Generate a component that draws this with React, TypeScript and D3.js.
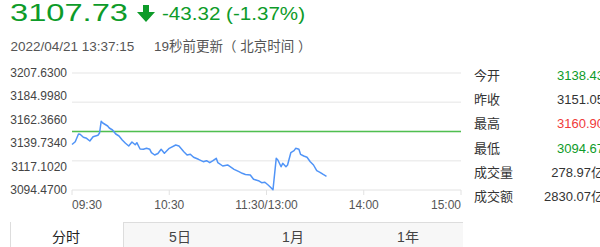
import React from "react";
import * as d3 from "d3";

// Intraday quote for 2022/04/21
const times = [
  "09:30","09:32","09:34","09:35","09:37","09:39","09:41","09:43","09:46","09:47",
  "09:48","09:49","09:51","09:52","09:53","09:55","09:57","09:59","10:01","10:03",
  "10:05","10:07","10:09","10:10","10:12","10:14","10:16","10:18","10:19","10:21",
  "10:23","10:25","10:27","10:30","10:34","10:36","10:39","10:41","10:43","10:45",
  "10:48","10:51","10:53","10:55","10:57","10:59","11:00","11:03","11:06","11:10",
  "11:13","11:15","11:17","11:20","11:22","11:25","11:27","11:29","13:01","13:02",
  "13:04","13:06","13:07","13:09","13:10","13:12","13:13","13:15","13:17","13:18",
  "13:20","13:21","13:23","13:25","13:27","13:29","13:31","13:33","13:35","13:37",
];
const prices = [
  3138.43,3141.18,3148.63,3148.34,3145.44,3144.47,3141.86,3146.02,3147.37,3149.6,
  3160.9,3159.27,3157.34,3156.37,3154.44,3152.5,3148.63,3146.7,3142.76,3139.64,
  3137.03,3140.9,3138.28,3140.22,3134.12,3133.83,3134.8,3133.83,3130.55,3128.32,
  3129.77,3133.83,3129.96,3134.8,3138.0,3137.03,3131.51,3128.32,3129.0,3126.1,
  3124.16,3121.84,3122.81,3120.87,3122.81,3125.13,3120.87,3117.68,3118.65,3114.49,
  3112.17,3110.62,3109.46,3108.98,3104.82,3103.47,3101.53,3101.92,3099.31,3097.86,
  3094.67,3125.13,3123.48,3117.0,3120.29,3117.0,3118.65,3130.55,3132.48,3134.8,
  3133.83,3129.0,3127.35,3126.1,3121.84,3118.65,3113.14,3111.59,3109.5,3107.73,
];

const prevClose = 3151.05;
const yTickLabels = ["3207.6300","3184.9980","3162.3660","3139.7340","3117.1020","3094.4700"];
const xTickLabels = ["09:30","10:30","11:30/13:00","14:00","15:00"];
const xTickMinutes = [0, 60, 120, 180, 240];

const statLabels = ["今开","昨收","最高","最低","成交量","成交额"];
const statValues = ["3138.43","3151.05","3160.90","3094.67","278.97亿","2830.07亿"];
const statColors = ["#0d9b29","#333333","#f03a3a","#0d9b29","#333333","#333333"];

const tabs = ["分时","5日","1月","1年"];

const FONT = "'Liberation Sans', Arial, 'Noto Sans CJK SC', sans-serif";
const GREEN = "#0d9b29";

// Minutes since the 09:30 open, with the lunch break removed
function sessionMinute(t: string): number {
  const [h, m] = t.split(":").map(Number);
  const mins = h * 60 + m;
  return mins <= 11 * 60 + 30 ? mins - (9 * 60 + 30) : 120 + mins - 13 * 60;
}

export default function App() {
  const W = 600, H = 247;
  const x = d3.scaleLinear().domain([0, 240]).range([72, 461]);
  const y = d3.scaleLinear().domain([3094.47, 3207.63]).range([190, 73]);

  const points: [number, number][] = times.map((t, i) => [sessionMinute(t), prices[i]]);
  const line = d3.line<[number, number]>().x(d => x(d[0])).y(d => y(d[1]));

  const yMin = 3094.47, yMax = 3207.63;
  const gridValues = d3.range(5).map(i => yMin + (i * (yMax - yMin)) / 4);
  const labelValues = yTickLabels.map(Number);

  return (
    <svg width={W} height={H} style={{ position: "absolute", left: 0, top: 0, background: "#fff" }} fontFamily={FONT}>
      {/* headline quote */}
      <text x={10} y={21} fontSize={23} fill={GREEN} textLength={118} lengthAdjust="spacingAndGlyphs">3107.73</text>
      <path d="M143,5 h6 v7 h6 l-9,10 l-9,-10 h6 z" fill={GREEN} />
      <text x={162} y={20} fontSize={18} fill={GREEN} textLength={143} lengthAdjust="spacingAndGlyphs">-43.32 (-1.37%)</text>
      <text x={10.5} y={51} fontSize={13.5} fill="#555">2022/04/21 13:37:15</text>
      <text x={154} y={51} fontSize={13.5} fill="#555">19秒前更新（ 北京时间 ）</text>

      {/* grid */}
      {gridValues.slice(1).map((v, i) => (
        <line key={i} x1={72} x2={461} y1={y(v)} y2={y(v)} stroke="#eeeeee" strokeWidth={1.6} />
      ))}
      <line x1={72} x2={461} y1={190} y2={190} stroke="#e2e2e2" strokeWidth={1} />
      {xTickMinutes.map((m, i) => (
        <line key={i} x1={x(m)} x2={x(m)} y1={190} y2={195} stroke="#e2e2e2" strokeWidth={1} />
      ))}

      {/* y labels */}
      {labelValues.map((v, i) => (
        <text key={i} x={67} y={y(v) + 4} fontSize={12} fill="#444" textAnchor="end">{yTickLabels[i]}</text>
      ))}

      {/* x labels */}
      {xTickMinutes.map((m, i) => (
        <text key={i} x={x(m)} y={209} fontSize={12} fill="#555"
          textAnchor={i === 0 ? "start" : i === xTickMinutes.length - 1 ? "end" : "middle"}>{xTickLabels[i]}</text>
      ))}

      {/* previous close */}
      <line x1={72} x2={461} y1={y(prevClose)} y2={y(prevClose)} stroke="#4fbf4f" strokeWidth={1.5} />

      {/* price line */}
      <path d={line(points) ?? ""} fill="none" stroke="#5094f7" strokeWidth={1.5} strokeLinejoin="round" />

      {/* stats panel */}
      {statLabels.map((s, i) => (
        <g key={i}>
          <text x={474} y={80 + i * 24.2} fontSize={13} fill="#333">{s}</text>
          <text x={604} y={80 + i * 24.2} fontSize={13} fill={statColors[i]} textAnchor="end">{statValues[i]}</text>
        </g>
      ))}

      {/* period tabs */}
      <rect x={123} y={222} width={340} height={30} fill="#f7f7f7" />
      <line x1={123} x2={463} y1={222.5} y2={222.5} stroke="#dddddd" />
      <line x1={123.5} x2={123.5} y1={222} y2={247} stroke="#dddddd" />
      <line x1={10.5} x2={10.5} y1={222} y2={247} stroke="#dddddd" />
      {tabs.map((t, i) => (
        <text key={i} x={[66, 180, 293, 408][i]} y={242} fontSize={14} fill={i === 0 ? "#222" : "#444"} textAnchor="middle">{t}</text>
      ))}
    </svg>
  );
}
